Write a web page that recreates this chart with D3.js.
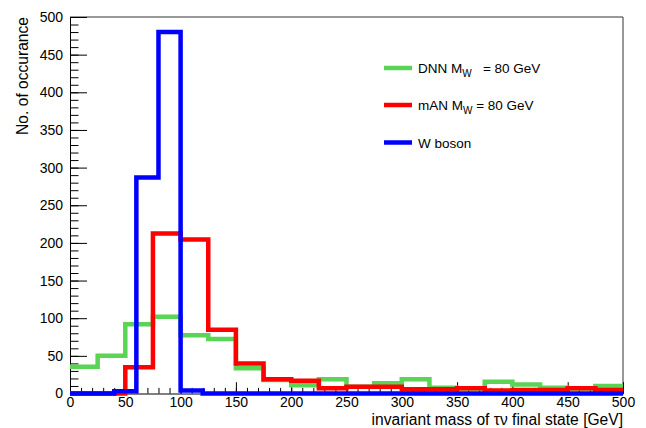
<!DOCTYPE html>
<html>
<head>
<meta charset="utf-8">
<script src="https://cdn.jsdelivr.net/npm/d3@7"></script>
<style>
  html, body { margin: 0; padding: 0; background: #fff; }
  svg { display: block; font-family: "Liberation Sans", Arial, Helvetica, sans-serif; }
</style>
</head>
<body>
<svg id="chart" width="646" height="428"></svg>
<script>
// Histogram contents (counts per bin)
const dnnBinWidth = 25;      // GeV, 20 bins over 0-500
const dnnCounts = [35.5, 50, 92, 102, 77.5, 72.5, 33.5, 18, 11, 19,
                   9, 13.5, 19, 7.5, 6.5, 15.5, 12, 7.5, 6.5, 10];
const manBinWidth = 25;
const manCounts = [0, 0, 35, 212.5, 204.5, 84.5, 40, 19, 17, 7,
                   9, 9, 5.5, 5.5, 7, 4, 4.5, 4.5, 7, 4.5];
const wBinWidth = 20;        // GeV, 25 bins over 0-500
const wCounts = [0, 0, 3, 287, 480, 4, 0, 0, 0, 0, 0, 0, 0,
                 0, 0, 0, 0, 0, 0, 0, 0, 0, 0, 0, 0];

const xTicks = [0, 50, 100, 150, 200, 250, 300, 350, 400, 450, 500];
const yTicks = [0, 50, 100, 150, 200, 250, 300, 350, 400, 450, 500];

const legendEntries = [
  { name: "DNN", sub: "W", rest: "   = 80 GeV", color: "#59d454" },
  { name: "mAN", sub: "W", rest: " = 80 GeV", color: "#ff0000" },
  { name: "W boson", sub: null, rest: "", color: "#0000ff" }
];

const svg = d3.select("#chart");
const padL = 70, padR = 623, padT = 17, padB = 393.5;

const x = d3.scaleLinear().domain([0, 500]).range([padL, padR]);
const y = d3.scaleLinear().domain([0, 500]).range([padB, padT]);

// Frame: top and right edges
svg.append("line").attr("x1", padL).attr("x2", padR).attr("y1", padT).attr("y2", padT)
  .attr("stroke", "#333").attr("stroke-width", 1);
svg.append("line").attr("x1", padR).attr("x2", padR).attr("y1", padT).attr("y2", padB)
  .attr("stroke", "#333").attr("stroke-width", 1);

// Minor ticks (every 10)
const minor = d3.range(0, 501, 10);
svg.append("g").attr("transform", `translate(${padL},0)`)
  .call(d3.axisLeft(y).tickValues(minor).tickSizeInner(-8.5).tickSizeOuter(0).tickFormat(""))
  .call(g => g.select(".domain").remove());
svg.append("g").attr("transform", `translate(0,${padB})`)
  .call(d3.axisBottom(x).tickValues(minor).tickSizeInner(-5.6).tickSizeOuter(0).tickFormat(""))
  .call(g => g.select(".domain").remove());

// Major axes
const yAxis = svg.append("g").attr("transform", `translate(${padL},0)`)
  .call(d3.axisLeft(y).tickValues(yTicks).tickSizeInner(-17).tickSizeOuter(0).tickPadding(7));
const xAxis = svg.append("g").attr("transform", `translate(0,${padB})`)
  .call(d3.axisBottom(x).tickValues(xTicks).tickSizeInner(-11.3).tickSizeOuter(0).tickPadding(4));
[yAxis, xAxis].forEach(g => {
  g.selectAll("text").attr("font-size", 14).attr("fill", "#000")
    .attr("font-family", "'Liberation Sans', Arial, sans-serif");
  g.selectAll("line").attr("stroke", "#000");
  g.select(".domain").attr("stroke", "#000");
});

// Step outlines of the histograms
function stepPoints(counts, width) {
  const pts = counts.map((c, i) => [i * width, c]);
  pts.push([counts.length * width, counts[counts.length - 1]]);
  return pts;
}
const step = d3.line().x(d => x(d[0])).y(d => y(d[1])).curve(d3.curveStepAfter);

const hists = [
  { counts: dnnCounts, width: dnnBinWidth, color: "#59d454" },
  { counts: manCounts, width: manBinWidth, color: "#ff0000" },
  { counts: wCounts, width: wBinWidth, color: "#0000ff" }
];
hists.forEach(h => {
  svg.append("path")
    .attr("d", step(stepPoints(h.counts, h.width)))
    .attr("fill", "none")
    .attr("stroke", h.color)
    .attr("stroke-width", 4.5)
    .attr("stroke-linejoin", "miter");
});

// Axis titles
svg.append("text")
  .attr("x", padR).attr("y", 424.5)
  .attr("text-anchor", "end").attr("font-size", 15.6)
  .text("invariant mass of τν final state [GeV]");
svg.append("text")
  .attr("transform", `translate(28,${padT}) rotate(-90)`)
  .attr("text-anchor", "end").attr("font-size", 15.6)
  .text("No. of occurance");

// Legend
const legendY = [68, 105, 142.5];
legendEntries.forEach((e, i) => {
  const ly = legendY[i];
  svg.append("line").attr("x1", 384).attr("x2", 412).attr("y1", ly).attr("y2", ly)
    .attr("stroke", e.color).attr("stroke-width", 4.5);
  const t = svg.append("text").attr("x", 418).attr("y", ly + 5)
    .attr("font-size", 13.5).attr("xml:space", "preserve").style("white-space", "pre");
  if (e.sub) {
    t.append("tspan").text(e.name + " M");
    t.append("tspan").attr("font-size", 10).attr("dy", 3.5).text(e.sub);
    t.append("tspan").attr("dy", -3.5).text(e.rest);
  } else {
    t.append("tspan").text(e.name);
  }
});
</script>
</body>
</html>
